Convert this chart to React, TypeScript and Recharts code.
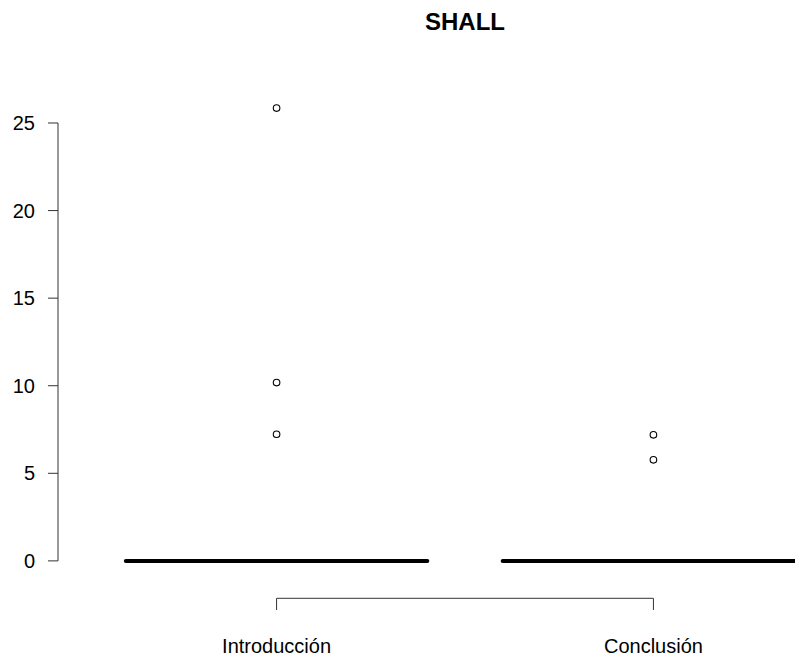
import React from "react";
import { ComposedChart, XAxis, YAxis, Scatter, ReferenceLine } from "recharts";

// data (all quartiles collapse to 0)
const categories = ["Introducción", "Conclusión"];
const medians = [0, 0];
const introOutliers = [25.85, 10.18, 7.23];
const conclOutliers = [7.2, 5.77];
const yTicks = [0, 5, 10, 15, 20, 25];

const FONT = '"Liberation Sans", Arial, Helvetica, sans-serif';
const AXIS = "#333";

const catPos = categories.map((_, i) => i + 1);
const outlierData = [
    ...introOutliers.map((y) => ({ x: 1, y })),
    ...conclOutliers.map((y) => ({ x: 2, y })),
];

// R style range: categories 0.5..n+0.5, data range, each padded by 4%
const xLo = 0.5, xHi = categories.length + 0.5;
const X_DOMAIN = [xLo - (xHi - xLo) * 0.04, xHi + (xHi - xLo) * 0.04];
const allY = [...medians, ...introOutliers, ...conclOutliers];
const yMin = Math.min(...allY), yMax = Math.max(...allY);
const Y_DOMAIN = [yMin - (yMax - yMin) * 0.04, yMax + (yMax - yMin) * 0.04];
// x axis line sits ~19px under the plot (plot is 489px tall)
const X_AXIS_LINE_Y = Y_DOMAIN[0] - ((Y_DOMAIN[1] - Y_DOMAIN[0]) * 19.3) / 489;

const BOX_HALF = 0.4;

function XTick(props: any) {
    const { x, y, payload } = props;
    const label = categories[Math.round(payload.value) - 1];
    return (
        <g>
            <line x1={x} x2={x} y1={y + 19.3} y2={y + 31} stroke={AXIS} strokeWidth={1} />
            <text x={x} y={y + 73.7} textAnchor="middle" fontSize={20} fill="#000" fontFamily={FONT}>
                {label}
            </text>
        </g>
    );
}

function Circle(props: any) {
    return <circle cx={props.cx} cy={props.cy} r={3.3} fill="none" stroke="#000" strokeWidth={1.1} />;
}

export default function App() {
    return (
        <div
            style={{
                position: "absolute",
                left: 0,
                top: 0,
                width: 795,
                height: 657,
                overflow: "hidden",
                background: "#fff",
                fontFamily: FONT,
            }}
        >
            <div
                style={{
                    position: "absolute",
                    left: 0,
                    top: 10,
                    width: 930,
                    textAlign: "center",
                    fontSize: 24,
                    lineHeight: "24px",
                    fontWeight: "bold",
                    color: "#000",
                }}
            >
                SHALL
            </div>
            <ComposedChart
                width={872}
                height={657}
                data={outlierData}
                margin={{ top: 90, right: 0, bottom: 0, left: 0 }}
            >
                <XAxis
                    type="number"
                    dataKey="x"
                    domain={X_DOMAIN}
                    ticks={catPos}
                    allowDataOverflow
                    height={78}
                    axisLine={false}
                    tickLine={false}
                    tickSize={0}
                    tickMargin={0}
                    tick={<XTick />}
                    interval={0}
                />
                <YAxis
                    type="number"
                    dataKey="y"
                    domain={Y_DOMAIN}
                    ticks={yTicks}
                    allowDataOverflow
                    width={58}
                    axisLine={false}
                    tickLine={{ stroke: AXIS }}
                    tickSize={10}
                    tickMargin={13}
                    tick={{ fill: "#000", fontSize: 20, fontFamily: FONT }}
                    interval={0}
                />
                {/* y axis line only spans first..last tick, like R */}
                <ReferenceLine
                    segment={[
                        { x: X_DOMAIN[0], y: yTicks[0] },
                        { x: X_DOMAIN[0], y: yTicks[yTicks.length - 1] },
                    ]}
                    stroke={AXIS}
                    strokeWidth={1}
                    ifOverflow="visible"
                />
                {/* x axis bracket between first and last category */}
                <ReferenceLine
                    segment={[
                        { x: catPos[0], y: X_AXIS_LINE_Y },
                        { x: catPos[catPos.length - 1], y: X_AXIS_LINE_Y },
                    ]}
                    stroke={AXIS}
                    strokeWidth={1}
                    ifOverflow="visible"
                />
                {/* medians (boxes are flat at 0) */}
                {catPos.map((c, i) => (
                    <ReferenceLine
                        key={categories[i]}
                        segment={[
                            { x: c - BOX_HALF, y: medians[i] },
                            { x: c + BOX_HALF, y: medians[i] },
                        ]}
                        stroke="#000"
                        strokeWidth={4}
                        strokeLinecap="round"
                        ifOverflow="visible"
                    />
                ))}
                <Scatter data={outlierData} dataKey="y" shape={<Circle />} isAnimationActive={false} />
            </ComposedChart>
        </div>
    );
}
